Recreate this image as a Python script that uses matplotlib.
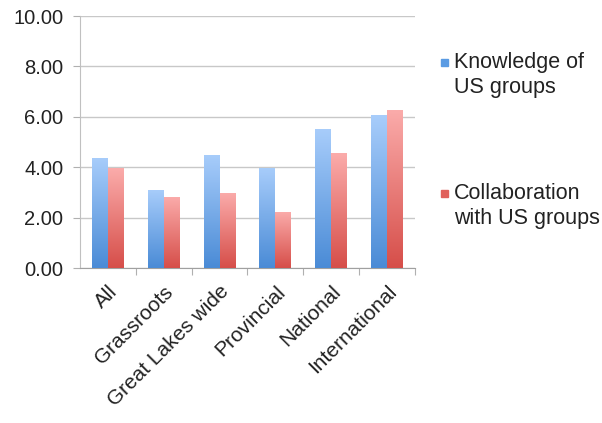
import numpy as np
import matplotlib.pyplot as plt
from matplotlib.colors import LinearSegmentedColormap
from matplotlib.patches import Rectangle

categorias = ["All", "Grassroots", "Great Lakes wide", "Provincial", "National", "International"]
conocimiento = [4.37, 3.11, 4.50, 3.98, 5.53, 6.06]
colaboracion = [3.96, 2.83, 2.99, 2.24, 4.55, 6.27]
series = [["Knowledge of", "US groups"], ["Collaboration", "with US groups"]]

plt.rcParams["font.family"] = ["Liberation Sans", "DejaVu Sans"]

azul = LinearSegmentedColormap.from_list("azul", ["#4a8bd6", "#a8cdfb"])
rojo = LinearSegmentedColormap.from_list("rojo", ["#d64e49", "#fbacab"])
degradado = np.linspace(0, 1, 256).reshape(-1, 1)


def barra_degradada(ax, x, alto, ancho, cmap):
    barra = ax.bar(x, alto, ancho, align="edge", color="none", zorder=3)[0]
    img = ax.imshow(degradado, cmap=cmap, origin="lower", aspect="auto",
                    extent=(x, x + ancho, 0, alto), zorder=3)
    img.set_clip_path(barra)


fig = plt.figure(figsize=(6.02, 4.23), dpi=100)
ax = fig.add_axes([0.133, 0.366, 0.556, 0.596])

ancho = 0.285
x = np.arange(len(categorias))
for i in x:
    barra_degradada(ax, i - ancho, conocimiento[i], ancho, azul)
    barra_degradada(ax, i, colaboracion[i], ancho, rojo)

ax.set_xlim(-0.5, len(categorias) - 0.5)
ax.set_ylim(0, 10)
ax.set_yticks(np.arange(0, 10.1, 2))
ax.set_yticklabels([f"{v:.2f}" for v in np.arange(0, 10.1, 2)], fontsize=14.5)
ax.yaxis.grid(True, color="#c8c8c8", linewidth=1)
ax.set_axisbelow(True)

ax.set_xticks(np.arange(0.5, len(categorias), 1))
ax.set_xticklabels([])
ax.set_xticks(x, minor=True)
ax.set_xticklabels(categorias, minor=True, rotation=45, ha="right",
                   rotation_mode="anchor", fontsize=15)
ax.tick_params(axis="x", which="minor", length=0, pad=10)
ax.tick_params(axis="x", which="major", length=5, color="#b0b0b0")
ax.tick_params(axis="y", length=5, color="#b0b0b0", colors="#222222", pad=7)
ax.tick_params(axis="x", which="minor", colors="#222222")

for lado in ["top", "right"]:
    ax.spines[lado].set_visible(False)
ax.spines["left"].set_color("#c0c0c0")
ax.spines["bottom"].set_color("#a0a0a0")

# leyenda a la derecha, una linea de texto por renglon
for lineas, color, y in zip(series, ["#5a9be3", "#e0605b"], [0.852, 0.543]):
    fig.add_artist(Rectangle((0.733, y - 0.009), 0.012, 0.018,
                             transform=fig.transFigure, color=color))
    for k, linea in enumerate(lineas):
        fig.text(0.754, y - k * 0.059, linea, fontsize=15.5, va="center",
                 ha="left", color="#222222")

fig.savefig("out.png", dpi=100)
